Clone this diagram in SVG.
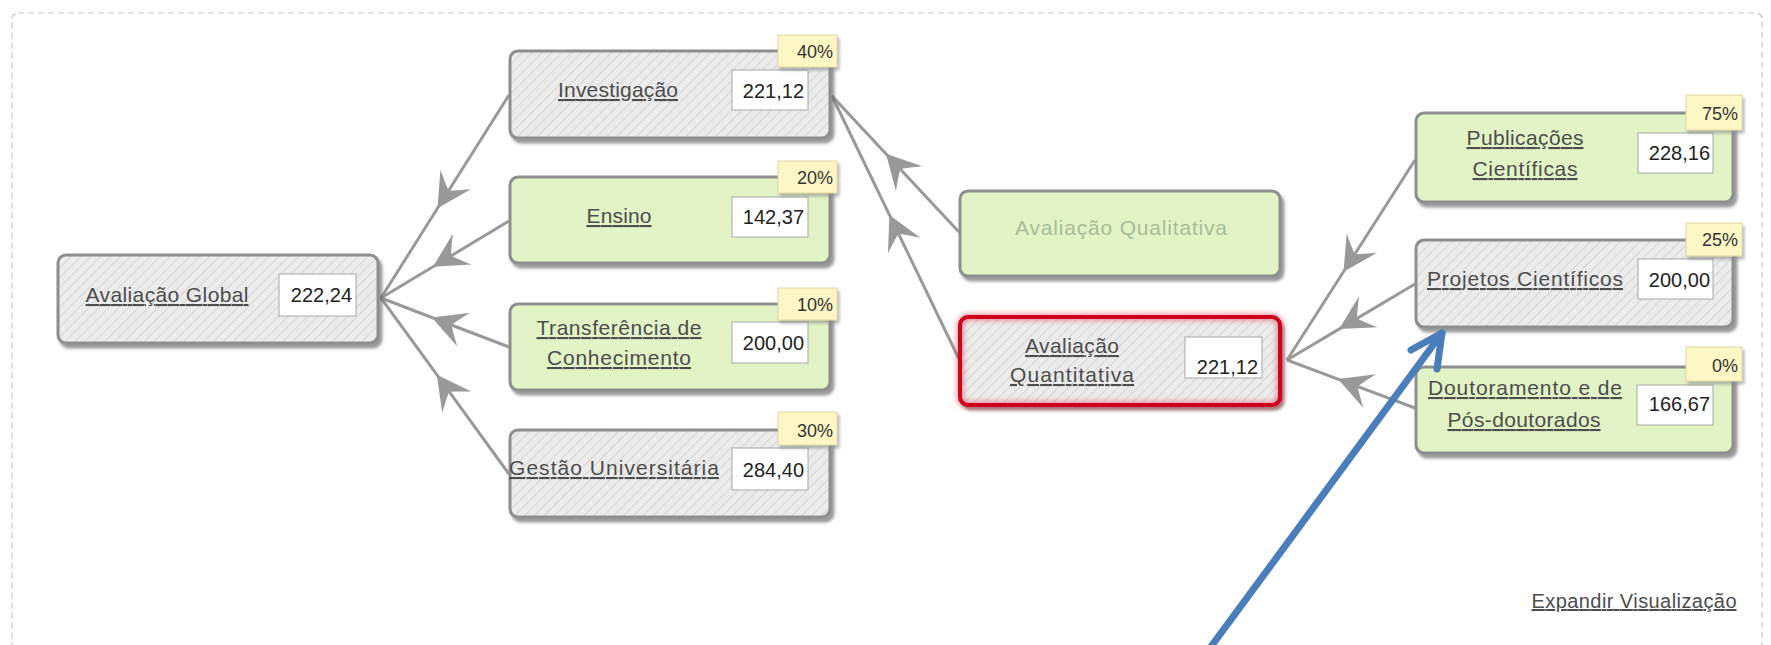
<svg xmlns="http://www.w3.org/2000/svg" width="1771" height="645" viewBox="0 0 1771 645">
<style>
.lbl{font-family:"Liberation Sans",Arial,sans-serif;font-size:21px;fill:#4d4d4d;text-decoration:underline;text-anchor:middle}
.dim{font-family:"Liberation Sans",Arial,sans-serif;font-size:21px;fill:#a8bc98;text-anchor:middle}
.val{font-family:"Liberation Sans",Arial,sans-serif;font-size:20px;fill:#222;text-anchor:end}
.pct{font-family:"Liberation Sans",Arial,sans-serif;font-size:18px;fill:#333;text-anchor:end}
.node{stroke:#8e8e8e;stroke-width:3;filter:url(#sh)}
.sel{stroke:#d0001c;stroke-width:4;filter:url(#rg)}
.gray{fill:url(#hatch)}
.green{fill:#e2f4c6}
.vbox{fill:#fff;stroke:#a8a8a8;stroke-width:1}
.badge{fill:#fdf7c6;stroke:#e2d9a6;stroke-width:1;filter:url(#bsh)}
.conn{stroke:#999;stroke-width:3;fill:none;marker-mid:url(#ah)}
</style>
<defs>
<pattern id="hatch" patternUnits="userSpaceOnUse" width="7" height="7" patternTransform="rotate(45)">
<rect width="7" height="7" fill="#ececec"/>
<line x1="0" y1="0" x2="0" y2="7" stroke="#d5d5d5" stroke-width="2"/>
</pattern>
<filter id="sh" x="-10%" y="-20%" width="125%" height="150%"><feDropShadow dx="3" dy="4" stdDeviation="1.5" flood-color="#555" flood-opacity="0.6"/></filter>
<filter id="rg" x="-10%" y="-30%" width="125%" height="160%"><feDropShadow dx="0" dy="0" stdDeviation="3" flood-color="#e00020" flood-opacity="0.7"/></filter>
<filter id="bsh" x="-20%" y="-30%" width="150%" height="170%"><feDropShadow dx="2" dy="3" stdDeviation="1.5" flood-color="#888" flood-opacity="0.6"/></filter>
<marker id="ah" markerUnits="userSpaceOnUse" orient="auto" viewBox="-38 -21 42 42" markerWidth="42" markerHeight="42" refX="0" refY="0">
<path d="M0,0 L-34,-18 Q-24,-5 -21,0 Q-24,5 -34,18 Z" fill="#999"/>
</marker>
</defs>
<rect x="12" y="13" width="1750" height="700" rx="6" fill="#fff" stroke="#c9c9c9" stroke-width="1.2" stroke-dasharray="6 4"/>

<g id="connectors">
<path class="conn" d="M509,95 L437.5,208.3 L381,298"/>
<path class="conn" d="M509,221 L433,266.7 L381,298"/>
<path class="conn" d="M509,347 L431.9,317.5 L381,298"/>
<path class="conn" d="M509,474 L436.8,374.7 L381,298"/>
<path class="conn" d="M959,232 L885.9,153.8 L832,96"/>
<path class="conn" d="M959,359 L889.4,214.9 L832,96"/>
<path class="conn" d="M1415,160 L1343.5,271.8 L1287,360"/>
<path class="conn" d="M1415,284 L1339,329.1 L1287,360"/>
<path class="conn" d="M1415,408 L1337.9,379.1 L1287,360"/>
</g>

<g id="n-global">
<rect class="node gray" x="58" y="255" width="320" height="88" rx="8"/>
<text class="lbl" x="167" y="302" textLength="163">Avaliação Global</text>
<rect class="vbox" x="279" y="274" width="77" height="42"/>
<text class="val" x="352" y="302">222,24</text>
</g>

<g id="n-investigacao">
<rect class="node gray" x="510" y="51" width="320" height="87" rx="8"/>
<text class="lbl" x="618" y="97" textLength="120">Investigação</text>
<rect class="vbox" x="732" y="70" width="76" height="40"/>
<text class="val" x="804" y="98">221,12</text>
<rect class="badge" x="778" y="35" width="59" height="32"/>
<text class="pct" x="833" y="58">40%</text>
</g>

<g id="n-ensino">
<rect class="node green" x="510" y="177" width="320" height="86" rx="8"/>
<text class="lbl" x="619" y="223" textLength="65">Ensino</text>
<rect class="vbox" x="732" y="197" width="76" height="40"/>
<text class="val" x="804" y="224">142,37</text>
<rect class="badge" x="778" y="161" width="59" height="32"/>
<text class="pct" x="833" y="184">20%</text>
</g>

<g id="n-transferencia">
<rect class="node green" x="510" y="304" width="320" height="86" rx="8"/>
<text class="lbl" x="619" y="335" textLength="165">Transferência de</text>
<text class="lbl" x="619" y="365" textLength="144">Conhecimento</text>
<rect class="vbox" x="732" y="322" width="76" height="41"/>
<text class="val" x="804" y="350">200,00</text>
<rect class="badge" x="778" y="288" width="59" height="32"/>
<text class="pct" x="833" y="311">10%</text>
</g>

<g id="n-gestao">
<rect class="node gray" x="510" y="430" width="320" height="87" rx="8"/>
<text class="lbl" x="614" y="475" textLength="210">Gestão Universitária</text>
<rect class="vbox" x="732" y="448" width="76" height="42"/>
<text class="val" x="804" y="477">284,40</text>
<rect class="badge" x="778" y="412" width="59" height="33"/>
<text class="pct" x="833" y="437">30%</text>
</g>

<g id="n-qualitativa">
<rect class="node green" x="960" y="191" width="320" height="85" rx="8"/>
<text class="dim" x="1121" y="235" textLength="212">Avaliação Qualitativa</text>
</g>

<g id="n-quantitativa">
<rect class="node gray" x="960" y="317" width="320" height="88" rx="8"/>
<rect class="sel" x="960" y="317" width="320" height="88" rx="8" fill="none"/>
<text class="lbl" x="1072" y="353" textLength="94">Avaliação</text>
<text class="lbl" x="1072" y="382" textLength="124">Quantitativa</text>
<rect class="vbox" x="1185" y="337" width="77" height="41"/>
<text class="val" x="1258" y="374">221,12</text>
</g>

<g id="n-publicacoes">
<rect class="node green" x="1416" y="113" width="317" height="89" rx="8"/>
<text class="lbl" x="1525" y="145" textLength="117">Publicações</text>
<text class="lbl" x="1525" y="176" textLength="105">Científicas</text>
<rect class="vbox" x="1638" y="133" width="75" height="40"/>
<text class="val" x="1710" y="160">228,16</text>
<rect class="badge" x="1686" y="95" width="56" height="35"/>
<text class="pct" x="1738" y="120">75%</text>
</g>

<g id="n-projetos">
<rect class="node gray" x="1416" y="240" width="317" height="87" rx="8"/>
<text class="lbl" x="1525" y="286" textLength="196">Projetos Científicos</text>
<rect class="vbox" x="1638" y="259" width="75" height="40"/>
<text class="val" x="1710" y="287">200,00</text>
<rect class="badge" x="1686" y="223" width="56" height="33"/>
<text class="pct" x="1738" y="246">25%</text>
</g>

<g id="n-doutoramento">
<rect class="node green" x="1416" y="367" width="317" height="86" rx="8"/>
<text class="lbl" x="1525" y="395" textLength="194">Doutoramento e de</text>
<text class="lbl" x="1524" y="427" textLength="153">Pós-doutorados</text>
<rect class="vbox" x="1637" y="385" width="76" height="40"/>
<text class="val" x="1710" y="411">166,67</text>
<rect class="badge" x="1686" y="347" width="56" height="34"/>
<text class="pct" x="1738" y="372">0%</text>
</g>

<g id="expandir">
<text class="lbl" x="1634" y="608" textLength="205" style="font-size:20px">Expandir Visualização</text>
</g>

<g id="pointer" fill="none" stroke="#4a7ebb" stroke-width="7" stroke-linecap="round" stroke-linejoin="round">
<path d="M1210,648 L1442,333"/>
<path d="M1411,350 L1442,333 L1437,369"/>
</g>
</svg>
